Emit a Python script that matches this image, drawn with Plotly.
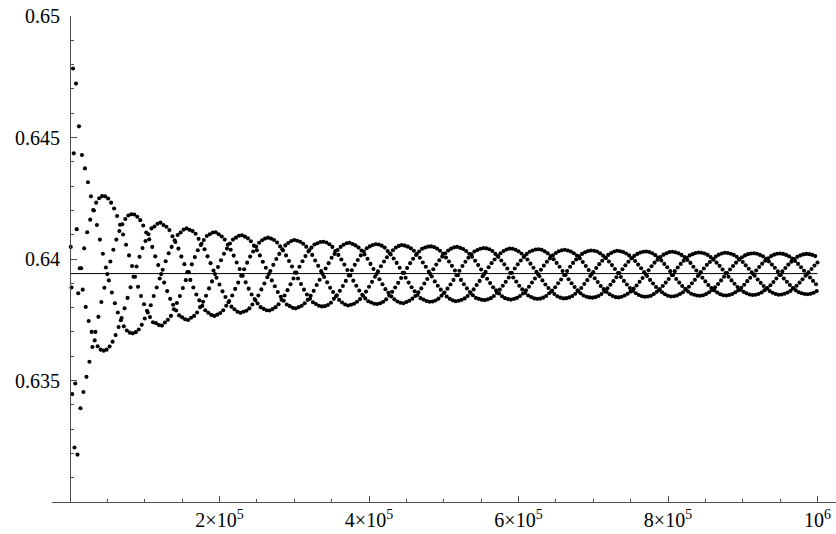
import plotly.graph_objects as go

# level of the horizontal reference line
center_value = 0.63940

# sample positions: the dots sit on a regular grid of step 1000 (k = 1 .. 1000)
x_step = 1000
x_vals = [x_step * k for k in range(1, 1001)]

# dot heights, in order of x (k = 1 .. 1000)
y_vals = [
    0.64050, 0.63883, 0.63444,
    0.64784, 0.64435, 0.63224, 0.63488, 0.64722, 0.64123, 0.63195, 0.63859,
    0.64546, 0.63962, 0.63386, 0.63962, 0.64428, 0.63874, 0.63453, 0.64044,
    0.64373, 0.63803, 0.63515, 0.64110, 0.64316, 0.63745, 0.63577, 0.64162,
    0.64258, 0.63700, 0.63638, 0.64202, 0.64200, 0.63665, 0.63700, 0.64232,
    0.64140, 0.63641, 0.63762, 0.64250, 0.64080, 0.63627, 0.63823, 0.64259,
    0.64022, 0.63623, 0.63882, 0.64258, 0.63965, 0.63627, 0.63938, 0.64249,
    0.63912, 0.63640, 0.63990, 0.64232, 0.63862, 0.63660, 0.64038, 0.64208,
    0.63818, 0.63687, 0.64080, 0.64177, 0.63780, 0.63720, 0.64115, 0.64141,
    0.63748, 0.63757, 0.64143, 0.64101, 0.63723, 0.63797, 0.64165, 0.64059,
    0.63706, 0.63840, 0.64179, 0.64015, 0.63697, 0.63884, 0.64184, 0.63971,
    0.63694, 0.63927, 0.64183, 0.63927, 0.63699, 0.63969, 0.64174, 0.63886,
    0.63710, 0.64009, 0.64160, 0.63848, 0.63729, 0.64045, 0.64138, 0.63814,
    0.63755, 0.64074, 0.64109, 0.63787, 0.63780, 0.64102, 0.64081, 0.63761,
    0.63810, 0.64126, 0.64050, 0.63740, 0.63848, 0.64134, 0.64011, 0.63736,
    0.63883, 0.64145, 0.63975, 0.63728, 0.63920, 0.64150, 0.63938, 0.63726,
    0.63956, 0.64140, 0.63903, 0.63739, 0.63991, 0.64133, 0.63868, 0.63750,
    0.64024, 0.64119, 0.63836, 0.63766, 0.64050, 0.64094, 0.63812, 0.63793,
    0.64077, 0.64070, 0.63788, 0.63819, 0.64099, 0.64043, 0.63768, 0.63848,
    0.64109, 0.64010, 0.63760, 0.63881, 0.64121, 0.63979, 0.63752, 0.63913,
    0.64126, 0.63946, 0.63749, 0.63946, 0.64120, 0.63914, 0.63758, 0.63978,
    0.64115, 0.63883, 0.63766, 0.64008, 0.64104, 0.63854, 0.63780, 0.64036,
    0.64083, 0.63830, 0.63802, 0.64058, 0.64063, 0.63807, 0.63824, 0.64078,
    0.64040, 0.63789, 0.63849, 0.64095, 0.64011, 0.63779, 0.63879, 0.64102,
    0.63983, 0.63770, 0.63908, 0.64109, 0.63953, 0.63766, 0.63938, 0.64110,
    0.63923, 0.63771, 0.63967, 0.64102, 0.63895, 0.63778, 0.63995, 0.64093,
    0.63867, 0.63789, 0.64022, 0.64080, 0.63844, 0.63808, 0.64043, 0.64059,
    0.63822, 0.63827, 0.64064, 0.64038, 0.63804, 0.63850, 0.64080, 0.64014,
    0.63793, 0.63877, 0.64088, 0.63986, 0.63783, 0.63903, 0.64096, 0.63959,
    0.63779, 0.63931, 0.64098, 0.63931, 0.63783, 0.63958, 0.64092, 0.63904,
    0.63787, 0.63985, 0.64085, 0.63878, 0.63797, 0.64010, 0.64073, 0.63854,
    0.63813, 0.64031, 0.64055, 0.63835, 0.63830, 0.64051, 0.64036, 0.63817,
    0.63850, 0.64067, 0.64015, 0.63802, 0.63875, 0.64077, 0.63989, 0.63795,
    0.63899, 0.64084, 0.63964, 0.63789, 0.63925, 0.64088, 0.63938, 0.63788,
    0.63951, 0.64084, 0.63912, 0.63794, 0.63976, 0.64078, 0.63888, 0.63802,
    0.64000, 0.64068, 0.63864, 0.63814, 0.64021, 0.64052, 0.63845, 0.63832,
    0.64040, 0.64035, 0.63828, 0.63850, 0.64056, 0.64015, 0.63813, 0.63872,
    0.64066, 0.63992, 0.63806, 0.63896, 0.64074, 0.63969, 0.63799, 0.63920,
    0.64078, 0.63944, 0.63797, 0.63944, 0.64075, 0.63920, 0.63802, 0.63968,
    0.64071, 0.63897, 0.63808, 0.63991, 0.64063, 0.63874, 0.63818, 0.64012,
    0.64051, 0.63854, 0.63832, 0.64031, 0.64036, 0.63836, 0.63849, 0.64047,
    0.64017, 0.63822, 0.63869, 0.64060, 0.63994, 0.63815, 0.63893, 0.64065,
    0.63972, 0.63808, 0.63915, 0.64070, 0.63950, 0.63805, 0.63938, 0.64071,
    0.63926, 0.63806, 0.63961, 0.64068, 0.63904, 0.63811, 0.63983, 0.64061,
    0.63882, 0.63820, 0.64005, 0.64050, 0.63864, 0.63836, 0.64021, 0.64033,
    0.63847, 0.63851, 0.64037, 0.64017, 0.63832, 0.63869, 0.64050, 0.63998,
    0.63821, 0.63889, 0.64059, 0.63977, 0.63813, 0.63910, 0.64065, 0.63955,
    0.63809, 0.63932, 0.64067, 0.63932, 0.63812, 0.63954, 0.64062, 0.63911,
    0.63816, 0.63976, 0.64056, 0.63890, 0.63824, 0.63996, 0.64047, 0.63870,
    0.63835, 0.64015, 0.64035, 0.63853, 0.63849, 0.64031, 0.64019, 0.63838,
    0.63866, 0.64044, 0.64001, 0.63826, 0.63886, 0.64052, 0.63980, 0.63821,
    0.63906, 0.64058, 0.63959, 0.63816, 0.63927, 0.64061, 0.63938, 0.63815,
    0.63949, 0.64060, 0.63917, 0.63818, 0.63970, 0.64055, 0.63896, 0.63824,
    0.63990, 0.64047, 0.63876, 0.63834, 0.64007, 0.64033, 0.63861, 0.63850,
    0.64023, 0.64019, 0.63846, 0.63865, 0.64036, 0.64002, 0.63834, 0.63883,
    0.64047, 0.63984, 0.63825, 0.63902, 0.64054, 0.63964, 0.63820, 0.63922,
    0.64058, 0.63943, 0.63818, 0.63943, 0.64055, 0.63923, 0.63823, 0.63963,
    0.64051, 0.63903, 0.63828, 0.63983, 0.64044, 0.63884, 0.63837, 0.64001,
    0.64034, 0.63867, 0.63848, 0.64017, 0.64021, 0.63852, 0.63863, 0.64031,
    0.64005, 0.63839, 0.63879, 0.64042, 0.63986, 0.63833, 0.63899, 0.64047,
    0.63968, 0.63827, 0.63918, 0.64051, 0.63948, 0.63824, 0.63938, 0.64052,
    0.63928, 0.63825, 0.63958, 0.64049, 0.63908, 0.63829, 0.63977, 0.64043,
    0.63890, 0.63837, 0.63995, 0.64034, 0.63874, 0.63849, 0.64010, 0.64021,
    0.63859, 0.63862, 0.64024, 0.64006, 0.63846, 0.63878, 0.64035, 0.63990,
    0.63836, 0.63895, 0.64043, 0.63972, 0.63830, 0.63914, 0.64048, 0.63953,
    0.63826, 0.63933, 0.64050, 0.63933, 0.63828, 0.63952, 0.64046, 0.63914,
    0.63832, 0.63971, 0.64041, 0.63896, 0.63838, 0.63989, 0.64033, 0.63879,
    0.63848, 0.64005, 0.64022, 0.63864, 0.63860, 0.64019, 0.64009, 0.63851,
    0.63875, 0.64031, 0.63993, 0.63840, 0.63893, 0.64037, 0.63975, 0.63836,
    0.63910, 0.64042, 0.63957, 0.63832, 0.63929, 0.64045, 0.63938, 0.63831,
    0.63947, 0.64044, 0.63919, 0.63834, 0.63966, 0.64040, 0.63901, 0.63839,
    0.63983, 0.64033, 0.63884, 0.63848, 0.63998, 0.64021, 0.63871, 0.63861,
    0.64012, 0.64009, 0.63858, 0.63874, 0.64024, 0.63994, 0.63847, 0.63890,
    0.64033, 0.63978, 0.63839, 0.63906, 0.64039, 0.63961, 0.63835, 0.63924,
    0.64043, 0.63943, 0.63833, 0.63943, 0.64042, 0.63924, 0.63836, 0.63961,
    0.64038, 0.63907, 0.63840, 0.63978, 0.64032, 0.63890, 0.63848, 0.63994,
    0.64023, 0.63875, 0.63858, 0.64008, 0.64012, 0.63861, 0.63871, 0.64021,
    0.63998, 0.63850, 0.63886, 0.64030, 0.63981, 0.63844, 0.63903, 0.64035,
    0.63964, 0.63838, 0.63920, 0.64039, 0.63947, 0.63836, 0.63938, 0.64040,
    0.63929, 0.63837, 0.63956, 0.64038, 0.63912, 0.63841, 0.63973, 0.64032,
    0.63895, 0.63848, 0.63989, 0.64024, 0.63881, 0.63859, 0.64002, 0.64012,
    0.63867, 0.63870, 0.64015, 0.63999, 0.63856, 0.63884, 0.64025, 0.63984,
    0.63847, 0.63900, 0.64032, 0.63968, 0.63841, 0.63916, 0.64036, 0.63951,
    0.63838, 0.63934, 0.64038, 0.63934, 0.63839, 0.63951, 0.64035, 0.63917,
    0.63842, 0.63968, 0.64031, 0.63900, 0.63848, 0.63984, 0.64024, 0.63885,
    0.63857, 0.63998, 0.64014, 0.63871, 0.63868, 0.64011, 0.64002, 0.63859,
    0.63881, 0.64021, 0.63988, 0.63850, 0.63897, 0.64028, 0.63971, 0.63845,
    0.63913, 0.64033, 0.63955, 0.63842, 0.63930, 0.64035, 0.63938, 0.63841,
    0.63946, 0.64034, 0.63921, 0.63843, 0.63963, 0.64031, 0.63905, 0.63848,
    0.63979, 0.64024, 0.63889, 0.63856, 0.63993, 0.64014, 0.63876, 0.63867,
    0.64006, 0.64003, 0.63864, 0.63880, 0.64017, 0.63990, 0.63855, 0.63894,
    0.64025, 0.63975, 0.63848, 0.63909, 0.64031, 0.63959, 0.63843, 0.63925,
    0.64034, 0.63942, 0.63842, 0.63942, 0.64032, 0.63926, 0.63845, 0.63958,
    0.64029, 0.63910, 0.63850, 0.63974, 0.64023, 0.63895, 0.63857, 0.63989,
    0.64015, 0.63881, 0.63866, 0.64002, 0.64004, 0.63869, 0.63878, 0.64013,
    0.63992, 0.63859, 0.63891, 0.64021, 0.63977, 0.63852, 0.63906, 0.64027,
    0.63962, 0.63847, 0.63922, 0.64030, 0.63946, 0.63845, 0.63938, 0.64031,
    0.63930, 0.63846, 0.63954, 0.64029, 0.63914, 0.63849, 0.63970, 0.64024,
    0.63899, 0.63856, 0.63985, 0.64016, 0.63885, 0.63865, 0.63997, 0.64006,
    0.63873, 0.63876, 0.64008, 0.63994, 0.63863, 0.63889, 0.64018, 0.63980,
    0.63855, 0.63903, 0.64024, 0.63966, 0.63849, 0.63918, 0.64029, 0.63950,
    0.63846, 0.63934, 0.64030, 0.63934, 0.63847, 0.63950, 0.64028, 0.63918,
    0.63850, 0.63965, 0.64024, 0.63903, 0.63856, 0.63980, 0.64017, 0.63889,
    0.63863, 0.63993, 0.64008, 0.63877, 0.63874, 0.64005, 0.63996, 0.63866,
    0.63886, 0.64015, 0.63984, 0.63857, 0.63900, 0.64020, 0.63968, 0.63853,
    0.63915, 0.64025, 0.63953, 0.63850, 0.63930, 0.64027, 0.63938, 0.63849,
    0.63946, 0.64026, 0.63923, 0.63851, 0.63961, 0.64023, 0.63908, 0.63856,
    0.63976, 0.64017, 0.63893, 0.63863, 0.63988, 0.64008, 0.63881, 0.63873,
    0.64000, 0.63997, 0.63871, 0.63884, 0.64010, 0.63985, 0.63862, 0.63897,
    0.64018, 0.63972, 0.63855, 0.63912, 0.64023, 0.63957, 0.63851, 0.63927,
    0.64026, 0.63942, 0.63850, 0.63942, 0.64025, 0.63927, 0.63852, 0.63957,
    0.64022, 0.63912, 0.63856, 0.63971, 0.64017, 0.63898, 0.63863, 0.63985,
    0.64009, 0.63885, 0.63871, 0.63997, 0.64000, 0.63874, 0.63882, 0.64007,
    0.63988, 0.63865, 0.63894, 0.64015, 0.63974, 0.63859, 0.63909, 0.64020,
    0.63960, 0.63854, 0.63923, 0.64023, 0.63945, 0.63852, 0.63938, 0.64024,
    0.63931, 0.63853, 0.63953, 0.64022, 0.63916, 0.63856, 0.63967, 0.64017,
    0.63902, 0.63862, 0.63981, 0.64011, 0.63889, 0.63871, 0.63993, 0.64001,
    0.63878, 0.63881, 0.64003, 0.63990, 0.63868, 0.63892, 0.64012, 0.63977,
    0.63861, 0.63905, 0.64018, 0.63964, 0.63856, 0.63920, 0.64022, 0.63949,
    0.63853, 0.63934, 0.64023, 0.63934, 0.63854, 0.63949, 0.64021, 0.63920,
    0.63857, 0.63963, 0.64017, 0.63906, 0.63862, 0.63977, 0.64011, 0.63893,
    0.63869, 0.63989, 0.64002, 0.63881, 0.63879, 0.64000, 0.63992, 0.63871,
    0.63890, 0.64009, 0.63980, 0.63863, 0.63903, 0.64015, 0.63966, 0.63859,
    0.63917, 0.64019, 0.63952, 0.63856, 0.63931, 0.64021, 0.63938, 0.63855,
    0.63945, 0.64020, 0.63924, 0.63857, 0.63959, 0.64017, 0.63910, 0.63861,
    0.63973, 0.64012, 0.63896, 0.63868,
    0.63986,
]

y_tick_vals = [0.635, 0.64, 0.645, 0.65]
y_tick_text = ["0.635", "0.64", "0.645", "0.65"]
x_tick_vals = [200000, 400000, 600000, 800000, 1000000]
x_tick_text = ["2×10<sup>5</sup>", "4×10<sup>5</sup>", "6×10<sup>5</sup>", "8×10<sup>5</sup>", "10<sup>6</sup>"]
line_x = [0, 1000000]

fig = go.Figure()
fig.add_trace(go.Scatter(x=line_x, y=[center_value, center_value], mode="lines",
                         line=dict(color="black", width=1), hoverinfo="skip"))
fig.add_trace(go.Scatter(x=x_vals, y=y_vals, mode="markers",
                         marker=dict(color="black", size=4.1, line=dict(width=0))))

x_range = [-24080, 1024750]
y_pos = (0 - x_range[0]) / (x_range[1] - x_range[0])
font = dict(family="Liberation Serif", size=20, color="black")
axis_color = "#4d4d4d"

fig.update_layout(
    width=836, height=534,
    margin=dict(l=52, r=0, t=16, b=32),
    plot_bgcolor="white", paper_bgcolor="white",
    showlegend=False,
    xaxis=dict(range=x_range, showline=True, linecolor=axis_color, linewidth=1,
               showgrid=False, zeroline=False,
               ticks="inside", ticklen=6, tickcolor=axis_color,
               tickvals=x_tick_vals, ticktext=x_tick_text, tickfont=font,
               minor=dict(dtick=50000, tick0=0, ticks="inside", ticklen=3.5, tickcolor=axis_color, showgrid=False)),
    yaxis=dict(range=[0.63, 0.650002], anchor="free", position=y_pos,
               showline=True, linecolor=axis_color, linewidth=1,
               showgrid=False, zeroline=False,
               ticks="inside", ticklen=6, tickcolor=axis_color, ticklabelstandoff=6,
               tickvals=y_tick_vals, ticktext=y_tick_text, tickfont=font,
               minor=dict(dtick=0.001, tick0=0.63, ticks="inside", ticklen=3.5, tickcolor=axis_color, showgrid=False)),
)

fig.write_html("out.html", config={"displayModeBar": False},
               post_script="document.body.style.margin='0px';")
